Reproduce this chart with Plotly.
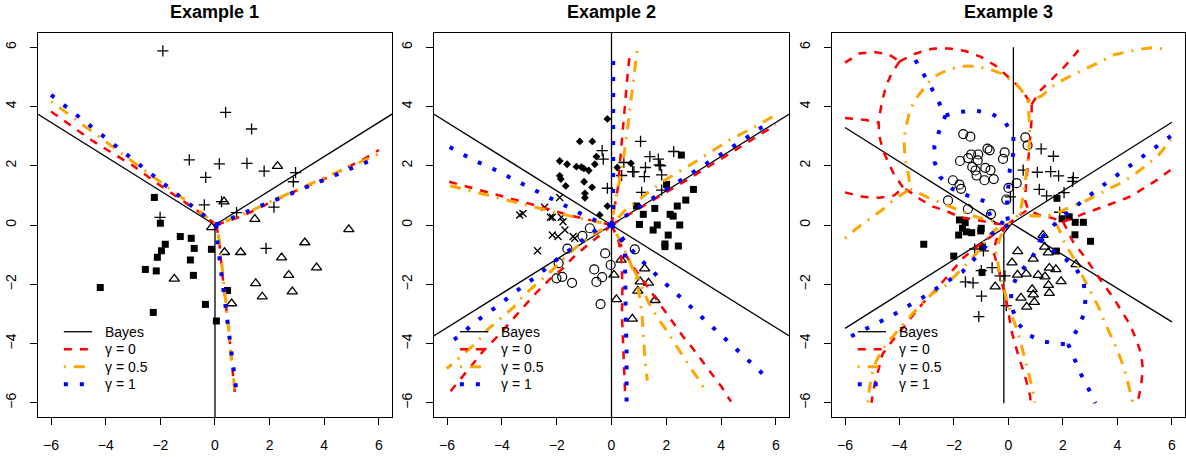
import math
import plotly.graph_objects as go

FONT = "Liberation Sans, Arial, Helvetica, sans-serif"
TICKS = [-6, -4, -2, 0, 2, 4, 6]
TITLES = ["Example 1", "Example 2", "Example 3"]
LEG_LABELS = ["Bayes", "γ = 0", "γ = 0.5", "γ = 1"]

# ---------------- Example 1 ----------------
EX1_PLUS_X = [-1.91, 0.39, 1.34, -0.94, 0.16, 1.17, 1.8, 2.95, 2.87, -0.34, -0.39, 0.24, 2.16, 0.79, -2.01, 1.87]
EX1_PLUS_Y = [5.88, 3.8, 3.24, 2.2, 2.06, 2.08, 1.82, 1.77, 1.46, 1.61, 0.68, 0.79, 0.6, 0.42, 0.26, -0.79]
EX1_TRI_X = [2.29, 0.33, 1.46, -0.12, 0.35, 0.94, 4.9, 3.29, 2.44, 3.72, 2.7, -1.49, 1.49, 2.83, 1.73, 0.61]
EX1_TRI_Y = [1.99, 0.79, 0.2, -0.08, -0.92, -0.92, -0.15, -0.59, -1.1, -1.44, -1.69, -1.82, -1.97, -2.25, -2.42, -2.65]
EX1_SQ_X = [-2.22, -2.0, -1.27, -0.87, -1.82, -1.96, -0.76, -0.13, -2.11, -0.9, -2.55, -2.15, -0.79, -4.2, 0.46, -0.35, -2.26, 0.05]
EX1_SQ_Y = [0.93, 0.06, -0.39, -0.45, -0.65, -0.87, -0.79, -0.82, -1.09, -1.18, -1.5, -1.55, -1.7, -2.11, -2.21, -2.68, -2.95, -3.24]

EX1_BAYES_ANGLES = [150, 30, 270]
EX1_RED = [
    [(-6.0, 3.83), (-4.5, 2.85), (-3.0, 2.0), (-2.2, 1.46), (-1.04, 0.73), (-0.43, 0.34), (0.05, 0.0)],
    [(0.05, 0.0), (1.0, 0.3), (2.0, 0.75), (3.0, 1.17), (4.0, 1.55), (5.0, 2.0), (5.5, 2.25), (6.0, 2.53)],
    [(0.05, 0.0), (0.15, -0.5), (0.25, -1.5), (0.38, -2.5), (0.5, -3.5), (0.6, -4.5), (0.73, -5.69)],
]
EX1_ORANGE = [
    [(-6.0, 4.17), (-4.5, 3.15), (-3.0, 2.1), (-2.0, 1.45), (-1.0, 0.78), (0.05, 0.02)],
    [(0.05, 0.02), (1.0, 0.34), (2.0, 0.78), (3.0, 1.18), (4.0, 1.58), (5.0, 2.0), (6.0, 2.4)],
    [(0.05, 0.02), (0.17, -0.6), (0.28, -1.6), (0.4, -2.6), (0.5, -3.5), (0.6, -4.6), (0.75, -5.7)],
]
EX1_BLUE = [
    [(-6.0, 4.39), (-5.09, 3.72), (-4.17, 3.05), (-3.26, 2.39), (-2.34, 1.72), (-1.41, 1.05), (-0.5, 0.39), (0.05, 0.02)],
    [(0.05, 0.02), (0.49, 0.17), (1.0, 0.39), (2.05, 0.78), (3.1, 1.18), (4.15, 1.58), (5.18, 1.99), (5.7, 2.17)],
    [(0.05, 0.02), (0.09, -0.56), (0.24, -1.69), (0.4, -2.82), (0.55, -3.94), (0.71, -5.08), (0.79, -5.65)],
]

# ---------------- Example 2 ----------------
EX2_DIAM_X = [-0.15, -1.16, -0.7, -1.89, -1.62, -1.28, -1.1, -1.01, -0.83, -0.61, -0.55, -1.89, -1.85, -1.67, -1.0, -0.71, -0.97, -0.97, -0.15, -0.43, 0.21, 0.71]
EX2_DIAM_Y = [3.58, 2.82, 2.82, 2.16, 2.05, 1.97, 1.95, 1.91, 1.84, 2.05, 2.31, 1.66, 1.55, 1.32, 1.46, 1.27, 1.07, 0.92, 0.64, 0.34, 1.94, 2.08]
EX2_PLUS_X = [-0.34, -0.3, 1.06, 1.4, 1.71, 2.27, 1.79, 1.24, 0.82, 0.77, 0.37, 0.45, 1.2, 1.83, -0.15, 1.1, 1.83, 1.74]
EX2_PLUS_Y = [2.51, 2.22, 2.82, 2.31, 2.22, 2.48, 2.0, 1.94, 1.79, 1.8, 1.67, 2.11, 1.63, 1.69, 1.24, 1.1, 1.18, 2.03]
EX2_X_X = [-3.35, -3.23, -2.44, -1.89, -2.23, -2.16, -1.83, -1.77, -2.16, -1.95, -1.7, -1.4, -1.34, -2.7]
EX2_X_Y = [0.34, 0.39, 0.6, 0.93, 0.26, 0.26, 0.26, 0.11, -0.34, -0.39, -0.17, -0.39, -0.45, -0.87]
EX2_CIRC_X = [-0.79, -1.06, -1.61, -1.93, -0.23, -0.63, -0.03, 0.85, -2.01, -1.8, -1.44, -0.34, -0.55, -0.4]
EX2_CIRC_Y = [-0.11, -0.37, -0.8, -1.29, -0.96, -1.5, -1.35, -0.82, -1.8, -1.75, -1.95, -1.76, -1.92, -2.67]
EX2_TRI_X = [0.35, 1.21, 0.09, 1.05, 1.35, 0.96, 0.18, 1.59, 0.76]
EX2_TRI_Y = [-1.18, -1.47, -1.68, -1.91, -1.95, -2.22, -2.51, -2.54, -3.17]
EX2_SQ_X = [2.55, 2.01, 2.99, 2.71, 0.91, 2.4, 1.58, 1.16, 2.14, 2.25, 1.02, 1.67, 2.49, 1.52, 2.07, 1.95, 1.95, 2.44]
EX2_SQ_Y = [2.36, 1.37, 1.2, 0.84, 0.64, 0.64, 0.56, 0.36, 0.36, 0.3, 0.02, 0.0, 0.0, -0.17, -0.34, -0.64, -0.73, -0.71]

EX2_BAYES_ANGLES = [30, 90, 150, 210, 270, 330]
EX2_RED = [
    [(0, 0), (0.1, 0.6), (0.24, 1.3), (0.3, 2.0), (0.37, 2.76), (0.43, 3.5), (0.49, 4.05), (0.58, 5.0), (0.67, 5.8)],
    [(0, 0), (-1.5, 0.32), (-3.0, 0.72), (-4.5, 1.1), (-6.0, 1.48)],
    [(0, 0), (-0.4, -0.33), (-0.89, -0.69), (-1.38, -1.08), (-1.8, -1.48), (-2.23, -1.81), (-2.78, -2.32), (-3.21, -2.77), (-3.7, -3.28), (-4.18, -3.78), (-4.67, -4.24), (-5.52, -5.19), (-5.95, -5.7)],
    [(0, 0), (0.25, -0.5), (0.35, -1.0), (0.4, -2.0), (0.38, -3.0), (0.42, -4.0), (0.47, -5.0), (0.5, -5.8)],
    [(0, 0), (0.3, -0.6), (0.67, -1.25), (1.1, -1.81), (1.46, -2.26), (1.89, -2.83), (2.26, -3.28), (2.62, -3.78), (2.93, -4.12), (3.29, -4.57), (3.66, -5.02), (4.02, -5.47), (4.36, -5.96)],
    [(0, 0), (1.5, 0.82), (3.0, 1.66), (4.5, 2.52), (6.0, 3.38)],
]
EX2_ORANGE = [
    [(0, 0), (0.1, 0.6), (0.25, 1.3), (0.43, 2.2), (0.55, 3.0), (0.67, 3.9), (0.79, 4.9), (0.94, 5.93)],
    [(0, 0), (-1.5, 0.3), (-3.0, 0.65), (-4.5, 1.0), (-6.0, 1.35)],
    [(0, 0), (-0.53, -0.24), (-1.14, -0.63), (-1.62, -1.02), (-1.93, -1.31), (-2.29, -1.64), (-2.72, -1.98), (-3.21, -2.38), (-3.57, -2.77), (-4.0, -3.11), (-4.49, -3.5), (-4.9, -3.95), (-5.58, -4.52), (-6.01, -4.85)],
    [(0, 0), (0.3, -0.5), (0.65, -1.2), (0.91, -1.81), (1.04, -2.51), (1.12, -3.11), (1.18, -3.9), (1.22, -4.57), (1.31, -5.25)],
    [(0.65, -1.2), (1.0, -1.85), (1.34, -2.6), (1.65, -3.09), (1.95, -3.48), (2.26, -3.93), (2.58, -4.38), (2.87, -4.8), (3.23, -5.28), (3.47, -5.68)],
    [(0, 0), (0.5, 0.5), (0.85, 0.75), (1.83, 1.45), (3.0, 2.1), (4.27, 2.85), (5.2, 3.3), (6.0, 3.72)],
]
EX2_BLUE = [
    [(0, 0), (0.06, 0.62), (0.06, 3.0), (0.06, 5.8)],
    [(0, 0), (-0.46, 0.11), (-0.95, 0.30), (-1.46, 0.54), (-1.98, 0.79), (-2.48, 1.01), (-2.98, 1.24), (-3.48, 1.49), (-3.99, 1.72), (-4.48, 1.97), (-5.0, 2.17), (-5.49, 2.42), (-6.0, 2.68)],
    [(0, 0), (-0.46, -0.11), (-0.95, -0.42), (-1.38, -0.75), (-1.87, -1.07), (-2.3, -1.41), (-2.76, -1.75), (-3.23, -2.06), (-3.68, -2.39), (-4.15, -2.73), (-4.63, -3.04), (-5.06, -3.34), (-5.51, -3.72), (-6.0, -4.02)],
    [(0, 0), (0.36, -0.52), (0.49, -0.95), (0.49, -2.0), (0.52, -3.2), (0.55, -4.3), (0.55, -6.0)],
    [(0, 0), (0.4, -0.45), (0.94, -1.06), (1.38, -1.45), (1.8, -1.84), (2.25, -2.21), (2.68, -2.58), (3.12, -2.94), (3.56, -3.32), (4.0, -3.7), (4.43, -4.09), (4.88, -4.49), (5.32, -4.83), (5.74, -5.21)],
    [(0, 0), (0.61, 0.36), (1.06, 0.65), (1.52, 0.91), (2.01, 1.2), (2.5, 1.49), (2.99, 1.77), (3.48, 2.07), (3.94, 2.35), (4.41, 2.64), (4.9, 2.93), (5.37, 3.23), (5.85, 3.51)],
]

# ---------------- Example 3 ----------------
EX3_CIRC_X = [-1.66, -1.4, -0.77, -0.69, -0.14, -0.2, 0.62, 0.7, -1.11, -1.37, -1.48, -1.78, -1.13, -1.33, -0.85, -1.21, -0.66, -1.17, -0.54, -0.88, -2.04, -1.8, -1.74, -2.22, -1.49, -0.64, -0.08, 0.0, 0.3]
EX3_CIRC_Y = [3.07, 2.98, 2.58, 2.52, 2.45, 2.23, 2.96, 2.69, 2.38, 2.38, 2.26, 2.16, 2.18, 1.96, 1.93, 1.84, 1.85, 1.67, 1.55, 1.51, 1.51, 1.36, 1.22, 0.83, 0.54, 0.37, 0.86, 1.25, 1.41]
EX3_PLUS_X = [1.2, 1.65, 0.54, 1.06, 1.55, 1.84, 2.38, 2.35, 1.13, 1.4, 2.04, 0.07, 1.88, -1.24, -0.92, -0.6, -1.0, -1.58, -1.3, -0.31, -0.13, -0.99, -1.09, -0.08]
EX3_PLUS_Y = [2.57, 2.32, 1.85, 1.78, 1.8, 1.66, 1.6, 1.47, 1.2, 0.98, 1.09, 0.95, 0.43, -0.81, -0.87, -1.44, -1.54, -1.92, -1.95, -1.72, -1.72, -2.4, -3.09, -2.72]
EX3_TRI_X = [1.27, 1.33, 1.46, 0.34, 0.91, 0.13, 0.65, 0.33, 1.09, 1.5, 1.74, 1.93, 1.34, 1.47, 1.5, 0.87, 0.91, 0.46, 0.95, 0.67, 2.48, -0.49]
EX3_TRI_Y = [-0.34, -0.74, -0.93, -0.89, -1.14, -1.27, -1.65, -1.68, -1.69, -1.45, -1.5, -1.9, -1.74, -2.03, -2.3, -2.17, -2.35, -2.46, -2.6, -2.76, -1.33, -2.08]
EX3_SQ_X = [-1.8, -1.59, -1.69, -1.55, -1.35, -1.83, -1.0, -1.02, -3.11, -0.96, -2.01, -0.97, 1.78, 2.23, 1.97, 2.45, 2.75, 2.44, 3.01, 1.76]
EX3_SQ_Y = [0.17, 0.08, -0.11, -0.23, -0.26, -0.34, -0.11, -0.2, -0.65, -0.73, -1.05, -1.6, 0.9, 0.28, 0.21, 0.09, 0.09, -0.33, -0.55, -0.88]

EX3_BAYES = [
    [(0.18, 6.0), (0.18, 0.37)],
    [(-0.17, -0.28), (-0.17, -6.02)],
    [(-6.0, 3.29), (-0.36, 0.02)],
    [(-0.17, -0.28), (0.12, 0.05), (6.0, -3.27)],
    [(-6.0, -3.49), (6.0, 3.47)],
]
EX3_RED = [
    [(-6.0, 5.48), (-5.47, 5.79), (-4.93, 5.84), (-4.38, 5.75), (-4.0, 5.52)],
    [(-4.0, 5.52), (-3.4, 5.79), (-2.8, 5.95), (-2.19, 5.96), (-1.58, 5.87), (-1.03, 5.68), (-0.48, 5.38), (-0.06, 5.02), (0.3, 4.74), (0.6, 4.4), (0.85, 4.07)],
    [(-4.0, 5.52), (-4.3, 5.1), (-4.5, 4.68), (-4.65, 4.12), (-4.77, 3.5), (-4.74, 3.0), (-4.6, 2.49), (-4.44, 2.15), (-4.2, 1.7), (-3.86, 1.25)],
    [(-6.0, 3.61), (-5.23, 3.54), (-4.77, 3.45)],
    [(-6.0, 1.1), (-5.35, 0.95), (-4.74, 0.92), (-4.2, 1.0), (-3.86, 1.25), (-3.5, 1.05), (-3.22, 0.86), (-2.8, 0.63), (-2.25, 0.46), (-1.76, 0.26), (-1.33, 0.2), (-0.9, 0.12), (-0.5, 0.05), (-0.05, 0.0)],
    [(0.85, 4.07), (1.15, 4.52), (1.58, 4.91), (2.07, 5.36), (2.49, 5.81), (2.65, 6.0)],
    [(0.85, 4.07), (0.85, 3.56), (0.79, 2.88), (0.72, 2.21), (0.66, 1.53), (0.6, 0.86), (0.72, 0.52), (1.09, 0.35), (1.58, 0.24), (2.0, 0.12)],
    [(2.0, 0.12), (2.25, 0.18), (2.67, 0.35), (3.04, 0.46), (3.53, 0.63), (4.01, 0.8), (4.5, 0.97), (4.98, 1.25), (5.47, 1.53), (5.96, 1.87)],
    [(2.0, 0.12), (2.37, -0.57), (2.8, -1.08), (3.1, -1.5), (3.47, -1.98), (3.83, -2.43), (4.14, -2.88), (4.44, -3.33), (4.68, -3.84), (4.87, -4.35), (4.93, -4.85), (4.87, -5.42), (4.74, -5.98)],
    [(-0.05, 0.0), (0.35, 0.3), (0.72, 0.52)],
    [(-0.05, 0.0), (-0.6, -0.35), (-1.16, -0.73), (-1.65, -1.1), (-2.2, -1.7), (-2.68, -2.2), (-3.11, -2.6), (-3.47, -3.0), (-3.9, -3.5), (-4.3, -3.95), (-4.62, -4.35), (-4.74, -4.74), (-4.89, -5.3), (-4.99, -5.75), (-5.03, -6.0)],
    [(-0.05, 0.0), (-0.45, -0.5), (-0.55, -0.9), (-0.42, -1.3), (-0.25, -1.9), (-0.07, -2.6), (0.12, -3.61), (0.36, -4.4), (0.6, -5.08), (0.79, -5.75), (0.82, -6.0)],
]
EX3_ORANGE = [
    [(0.72, 4.18), (0.6, 4.4), (0.36, 4.68), (0.0, 4.95), (-0.18, 5.08), (-0.66, 5.25), (-1.21, 5.36), (-1.7, 5.36), (-2.25, 5.23), (-2.8, 4.97), (-3.16, 4.55), (-3.47, 4.18), (-3.65, 3.73), (-3.79, 3.22), (-3.83, 2.77), (-3.79, 2.21), (-3.67, 1.7), (-3.6, 1.22)],
    [(-6.0, -0.45), (-5.55, -0.1), (-5.11, 0.2), (-4.62, 0.52), (-4.2, 0.86), (-3.83, 1.1), (-3.6, 1.22)],
    [(-3.6, 1.22), (-3.16, 1.02), (-2.8, 0.86), (-2.3, 0.68), (-1.8, 0.5), (-1.33, 0.32), (-0.9, 0.2), (-0.5, 0.1), (-0.05, 0.0)],
    [(0.72, 4.18), (0.79, 3.0), (0.72, 2.32), (0.66, 1.76), (0.54, 0.97), (0.42, 0.41), (0.24, 0.2), (-0.05, 0.0)],
    [(0.72, 4.18), (1.21, 4.35), (1.7, 4.74), (2.25, 5.02), (3.04, 5.36), (3.89, 5.75), (4.74, 5.92), (5.23, 5.98), (5.66, 5.95)],
    [(0.42, 0.41), (0.9, 0.3), (1.4, 0.3), (1.9, 0.45), (2.31, 0.63), (2.67, 0.74), (3.16, 0.97), (3.65, 1.19), (4.13, 1.42), (4.62, 1.7), (5.11, 2.04), (5.48, 2.32), (5.96, 2.88)],
    [(1.5, 0.32), (1.82, -0.07), (2.07, -0.63), (2.37, -1.08), (2.86, -1.98), (3.1, -2.38), (3.34, -2.83), (3.53, -3.28), (3.77, -3.73), (3.95, -4.12), (4.14, -4.57), (4.32, -5.08), (4.44, -5.53), (4.56, -5.98)],
    [(-0.05, 0.0), (-0.3, -0.4), (-0.45, -0.9), (-0.35, -1.5), (-0.2, -2.0), (-0.07, -2.49), (0.12, -3.05), (0.3, -3.5), (0.48, -4.07), (0.6, -4.52), (0.75, -5.08), (0.91, -5.64), (0.96, -6.0)],
    [(-0.05, 0.0), (-0.4, -0.1), (-0.72, -0.35), (-1.09, -0.86), (-1.46, -1.25), (-1.95, -1.7), (-2.31, -2.04), (-2.8, -2.32), (-3.47, -2.94), (-4.05, -3.55), (-4.62, -4.18), (-4.87, -4.63), (-4.99, -4.97), (-5.1, -5.5), (-5.17, -5.98)],
]
EX3_BLUE = [
    [(-3.42, 5.57), (-3.12, 5.11), (-2.84, 4.65), (-2.58, 4.18), (-2.31, 3.7)],
    [(-2.31, 3.7), (-1.76, 3.82), (-1.18, 3.86), (-0.6, 3.75), (-0.12, 3.47), (0.18, 3.0), (0.18, 2.43), (0.05, 1.87), (0.0, 1.35), (-0.05, 0.85), (-0.05, 0.35), (0.0, 0.0)],
    [(-2.31, 3.7), (-2.55, 3.15), (-2.72, 2.66), (-2.71, 2.12), (-2.51, 1.62), (-2.06, 1.22), (-1.52, 1.0), (-0.85, 0.8), (-0.66, 0.29), (-0.3, 0.1), (0.0, 0.0)],
    [(5.96, 3.0), (5.45, 2.66), (4.96, 2.34), (4.46, 2.02), (3.95, 1.7), (3.47, 1.34), (2.98, 1.0), (2.49, 0.66), (2.04, 0.32), (1.58, -0.07), (1.18, -0.46)],
    [(1.18, -0.46), (1.0, -0.9), (0.7, -1.31), (0.3, -1.73), (0.09, -2.26), (0.12, -2.77), (0.33, -3.3), (0.72, -3.7), (1.24, -3.92), (1.82, -4.02), (2.19, -4.02)],
    [(1.18, -0.46), (1.6, -0.85), (2.04, -1.1), (2.49, -1.48), (2.76, -1.95), (2.83, -2.49), (2.76, -3.03), (2.53, -3.52), (2.19, -4.02)],
    [(2.19, -4.02), (2.43, -4.57), (2.67, -5.05), (2.94, -5.53), (3.19, -6.01)],
    [(0.0, 0.0), (-0.6, -0.29), (-0.85, -0.74), (-1.25, -1.16), (-1.7, -1.59), (-2.19, -1.87), (-2.68, -2.18), (-3.19, -2.47), (-3.75, -2.77), (-4.26, -3.05), (-4.81, -3.31), (-5.33, -3.56), (-5.9, -3.81)],
]

# ---------------- styles ----------------
MK = {
    "plus": dict(symbol="cross-thin-open", size=8, color="black", line=dict(width=1.3, color="black")),
    "tri": dict(symbol="triangle-up-open", size=9, color="black", line=dict(width=1.3, color="black")),
    "sq": dict(symbol="square", size=7, color="black", line=dict(width=0)),
    "circ": dict(symbol="circle-open", size=9, color="black", line=dict(width=1.2, color="black")),
    "x": dict(symbol="x-thin-open", size=7, color="black", line=dict(width=1.3, color="black")),
    "diam": dict(symbol="diamond", size=6, color="black", line=dict(width=0)),
}
LN = [
    dict(color="black", width=1.3),
    dict(color="#FF0000", width=2.5, dash="8px,8px"),
    dict(color="#FFA500", width=3, dash="2px,8px,11px,8px"),
    dict(color="#0000FF", width=4, dash="4px,12px"),
]


def rays(angles, r=9.5):
    return [[(0.0, 0.0), (r * math.cos(math.radians(a)), r * math.sin(math.radians(a)))] for a in angles]


def flat(curves):
    xs, ys = [], []
    for c in curves:
        for (x, y) in c:
            xs.append(x)
            ys.append(y)
        xs.append(None)
        ys.append(None)
    return xs, ys


PANELS = [
    dict(points=[("plus", EX1_PLUS_X, EX1_PLUS_Y), ("tri", EX1_TRI_X, EX1_TRI_Y), ("sq", EX1_SQ_X, EX1_SQ_Y)],
         curves=[rays(EX1_BAYES_ANGLES), EX1_RED, EX1_ORANGE, EX1_BLUE]),
    dict(points=[("diam", EX2_DIAM_X, EX2_DIAM_Y), ("plus", EX2_PLUS_X, EX2_PLUS_Y), ("x", EX2_X_X, EX2_X_Y),
                 ("circ", EX2_CIRC_X, EX2_CIRC_Y), ("tri", EX2_TRI_X, EX2_TRI_Y), ("sq", EX2_SQ_X, EX2_SQ_Y)],
         curves=[rays(EX2_BAYES_ANGLES), EX2_RED, EX2_ORANGE, EX2_BLUE]),
    dict(points=[("circ", EX3_CIRC_X, EX3_CIRC_Y), ("plus", EX3_PLUS_X, EX3_PLUS_Y), ("tri", EX3_TRI_X, EX3_TRI_Y),
                 ("sq", EX3_SQ_X, EX3_SQ_Y)],
         curves=[EX3_BAYES, EX3_RED, EX3_ORANGE, EX3_BLUE]),
]

DOMAINS = [(0.0, 0.3086), (0.3452, 0.6548), (0.6922, 1.0)]
# legend layout inside each panel (fractions of the panel's plotting area)
LEG_LINE_X0, LEG_LINE_X1, LEG_TEXT_X = 0.073, 0.153, 0.184
LEG_ROWS_Y = [0.2221, 0.1763, 0.1310, 0.0852]

fig = go.Figure()
shapes, annotations = [], []
for i, p in enumerate(PANELS):
    sfx = "" if i == 0 else str(i + 1)
    xa, ya = "x" + sfx, "y" + sfx
    for kind, xs, ys in p["points"]:
        fig.add_trace(go.Scatter(x=xs, y=ys, mode="markers", marker=MK[kind], xaxis=xa, yaxis=ya,
                                 showlegend=False, hoverinfo="skip"))
    for k, curves in enumerate(p["curves"]):
        cx, cy = flat(curves)
        fig.add_trace(go.Scatter(x=cx, y=cy, mode="lines", line=LN[k], xaxis=xa, yaxis=ya,
                                 name=LEG_LABELS[k], showlegend=False, hoverinfo="skip"))
        shapes.append(dict(type="line", xref=xa + " domain", yref=ya + " domain",
                           x0=LEG_LINE_X0, x1=LEG_LINE_X1, y0=LEG_ROWS_Y[k], y1=LEG_ROWS_Y[k], line=LN[k]))
        annotations.append(dict(text=LEG_LABELS[k], xref=xa + " domain", yref=ya + " domain",
                                x=LEG_TEXT_X, y=LEG_ROWS_Y[k], xanchor="left", yanchor="middle",
                                showarrow=False, font=dict(family=FONT, size=14, color="black")))
    annotations.append(dict(text="<b>%s</b>" % TITLES[i], xref="paper", yref="paper",
                            x=sum(DOMAINS[i]) / 2, y=1.0547, xanchor="center", yanchor="middle",
                            showarrow=False, font=dict(family=FONT, size=18, color="black")))

axis_common = dict(range=[-6.48, 6.48], showgrid=False, zeroline=False, showline=True, mirror=True,
                   linecolor="black", linewidth=1, ticks="outside", ticklen=7, tickwidth=1, tickcolor="black",
                   tickvals=TICKS, tickfont=dict(family=FONT, size=14, color="black"), fixedrange=True,
                   automargin=False)
layout = dict(width=1186, height=457, margin=dict(l=38, r=1, t=33, b=40), plot_bgcolor="white",
              paper_bgcolor="white", font=dict(family=FONT, size=14, color="black"), showlegend=False,
              shapes=shapes, annotations=annotations)
for i in range(3):
    sfx = "" if i == 0 else str(i + 1)
    layout["xaxis" + sfx] = dict(axis_common, domain=list(DOMAINS[i]), anchor="y" + sfx, ticklabelstandoff=8)
    layout["yaxis" + sfx] = dict(axis_common, domain=[0, 1], anchor="x" + sfx, tickangle=-90, ticklabelstandoff=8)
fig.update_layout(**layout)
# remove the browser's default 8px page margin so the figure sits at the window's corner
fig.write_html("out.html", config={"displayModeBar": False},
               post_script="document.body.style.margin='0px';")
